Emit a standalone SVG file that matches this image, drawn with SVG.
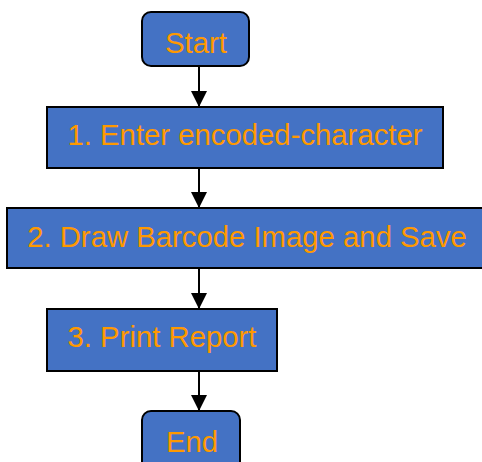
<svg xmlns="http://www.w3.org/2000/svg" width="482" height="462" viewBox="0 0 482 462">
  <style>
    .box { fill: #4472C4; stroke: #000; stroke-width: 2; }
    .label { fill: #FF9900; font-family: "Liberation Sans", Arial, sans-serif; font-size: 29.3px; text-anchor: middle; }
    .edge { stroke: #000; stroke-width: 2; fill: none; }
  </style>
  <defs>
    <marker id="arrow" viewBox="0 0 16 16" refX="16" refY="8" markerWidth="16" markerHeight="16" markerUnits="userSpaceOnUse" orient="auto">
      <path d="M0,0 L16,8 L0,16 Z" fill="#000"/>
    </marker>
  </defs>
  <rect width="482" height="462" fill="#fff"/>

  <g id="connectors">
    <line class="edge" x1="199" y1="66" x2="199" y2="107" marker-end="url(#arrow)"/>
    <line class="edge" x1="199" y1="168" x2="199" y2="208" marker-end="url(#arrow)"/>
    <line class="edge" x1="199" y1="268" x2="199" y2="309" marker-end="url(#arrow)"/>
    <line class="edge" x1="199" y1="371" x2="199" y2="411" marker-end="url(#arrow)"/>
  </g>

  <g id="start">
    <rect class="box" x="142" y="12" width="107" height="54" rx="9"/>
    <text class="label" x="196" y="53">Start</text>
  </g>
  <g id="step1">
    <rect class="box" x="47" y="107" width="396" height="61"/>
    <text class="label" x="245" y="145">1. Enter encoded-character</text>
  </g>
  <g id="step2">
    <rect class="box" x="7" y="208" width="480" height="60"/>
    <text class="label" x="247" y="247">2. Draw Barcode Image and Save</text>
  </g>
  <g id="step3">
    <rect class="box" x="47" y="309" width="230" height="62"/>
    <text class="label" x="162" y="347">3. Print Report</text>
  </g>
  <g id="end">
    <rect class="box" x="142" y="411" width="98" height="60" rx="9"/>
    <text class="label" x="192" y="452">End</text>
  </g>
</svg>
